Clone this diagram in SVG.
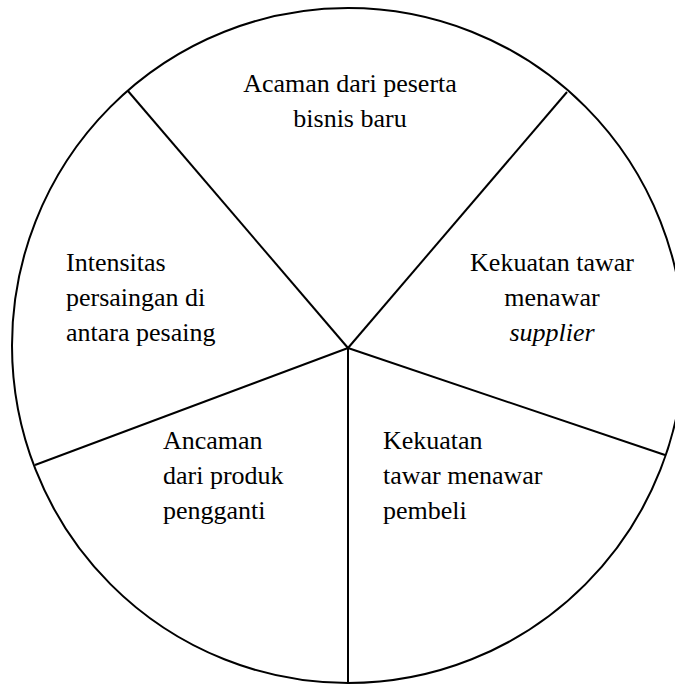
<svg xmlns="http://www.w3.org/2000/svg" width="675" height="684" viewBox="0 0 675 684">
  <style>
    .edge { fill: none; stroke: #000; stroke-width: 2; }
    .lbl { font-family: "Liberation Serif", "Times New Roman", serif; font-size: 26px; fill: #000; }
    .mid { text-anchor: middle; }
  </style>
  <rect width="675" height="684" fill="#fff"/>
  <!-- outer wheel -->
  <g id="wheel">
    <ellipse class="edge" cx="348" cy="345.5" rx="336" ry="337.5"/>
  </g>
  <!-- spokes dividing the five forces -->
  <g id="connectors">
    <line class="edge" x1="348" y1="348" x2="128" y2="91"/>
    <line class="edge" x1="348" y1="348" x2="567" y2="92"/>
    <line class="edge" x1="348" y1="348" x2="665" y2="455"/>
    <line class="edge" x1="348" y1="348" x2="348" y2="683"/>
    <line class="edge" x1="348" y1="348" x2="35" y2="465"/>
  </g>
  <g id="new-entrants">
    <text class="lbl mid" x="350" y="92">Acaman dari peserta</text>
    <text class="lbl mid" x="350" y="127">bisnis baru</text>
  </g>
  <g id="supplier-power">
    <text class="lbl mid" x="552" y="271">Kekuatan tawar</text>
    <text class="lbl mid" x="552" y="306">menawar</text>
    <text class="lbl mid" x="552" y="341" font-style="italic">supplier</text>
  </g>
  <g id="rivalry">
    <text class="lbl" x="66" y="271">Intensitas</text>
    <text class="lbl" x="66" y="306">persaingan di</text>
    <text class="lbl" x="66" y="341">antara pesaing</text>
  </g>
  <g id="substitutes">
    <text class="lbl" x="163" y="449">Ancaman</text>
    <text class="lbl" x="163" y="484">dari produk</text>
    <text class="lbl" x="163" y="519">pengganti</text>
  </g>
  <g id="buyer-power">
    <text class="lbl" x="383" y="449">Kekuatan</text>
    <text class="lbl" x="383" y="484">tawar menawar</text>
    <text class="lbl" x="383" y="519">pembeli</text>
  </g>
</svg>
